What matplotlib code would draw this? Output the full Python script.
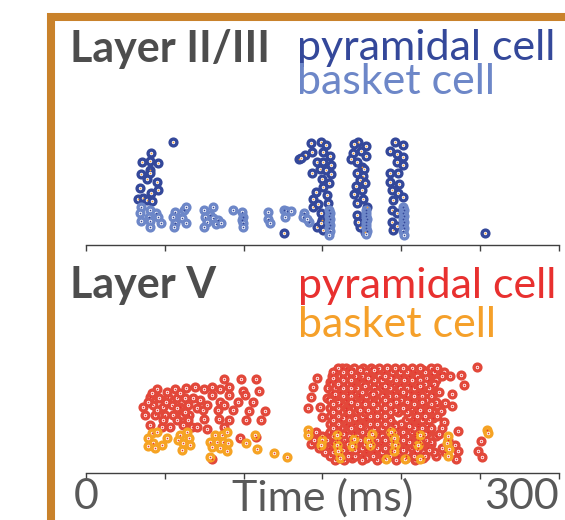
import numpy as np
import matplotlib
matplotlib.use("Agg")
import matplotlib.pyplot as plt
from matplotlib.patches import Rectangle

plt.rcParams['font.family'] = ['Lato', 'DejaVu Sans']

# ---- data: spike times (ms) and neuron index ----
# Layer II/III pyramidal
l23_pyr_t = [41.1, 35.7, 40.8, 45.5, 40.4, 34.9, 40.6, 38.7, 45.3, 34.5, 41.1, 45.9, 33.2, 36.4, 38.7, 41.7,
             55.2, 125.7, 135.2,
             142.6, 149.0, 152.3, 139.2, 143.4, 136.3, 150.2, 154.9, 146.4, 150.6, 155.3, 143.3, 148.5, 152.3,
             155.7, 149.6, 154.4, 150.6, 146.0, 152.8, 144.3, 153.8, 143.9, 147.4, 149.0, 149.6, 146.8, 150.6, 149.3,
             172.8, 170.3, 177.7, 169.7, 174.5, 177.7, 168.2, 171.8, 175.0, 176.4, 171.8, 175.6, 173.9, 177.1,
             171.4, 175.0, 170.1, 175.6, 171.8, 178.2, 171.8, 173.9, 177.1, 172.6,
             196.3, 193.0, 201.4, 197.6, 201.4, 197.2, 201.4, 193.0, 198.2, 193.0, 198.9, 194.0, 198.2, 201.4,
             195.0, 194.0, 197.2, 194.0, 195.0, 197.4,
             253.0]
l23_pyr_n = [85, 76, 77, 75, 68, 64, 65, 59, 56, 50, 45, 48, 39, 40, 38, 37,
             96, 5, 79,
             95, 96, 93, 83, 86, 80, 86, 82, 76, 76, 73, 65, 69, 68,
             64, 59, 55, 51, 46, 43, 39, 35, 31, 34, 25, 18, 11, 8, 15,
             96, 94, 92, 85, 87, 82, 79, 76, 71, 69, 65, 62, 58, 55,
             52, 48, 44, 39, 35, 31, 23, 11, 6, 16,
             96, 87, 93, 84, 81, 76, 73, 65, 65, 56, 54, 48, 45, 41,
             38, 28, 25, 16, 8, 12,
             5]

# Layer II/III basket
l23_bas_t = [34.9, 34.5, 40.8, 44.6, 45.9, 34.9, 40.0, 40.6, 47.4, 40.8,
             56.3, 62.4, 63.7, 55.4, 61.1, 56.3, 63.5, 55.7,
             75.1, 80.4, 78.9, 75.3, 80.8, 83.8, 76.6, 82.5, 85.5, 74.9,
             93.3, 99.2, 99.8, 98.8, 99.8, 99.8,
             115.3, 115.3, 117.0, 125.9, 127.4, 126.5, 130.1,
             138.4, 137.9, 141.7, 140.3,
             154.2, 155.0, 154.4, 155.0, 154.2, 155.0, 154.4, 154.6, 154.0,
             177.4, 178.0, 177.6, 178.2, 177.5, 178.0, 177.4, 178.1, 177.7,
             201.2, 201.8, 201.4, 202.0, 201.3, 201.8, 201.5, 202.0, 201.4, 201.7]
l23_bas_n = [31, 25, 28, 25, 21, 17, 21, 17, 15, 11,
             26, 28, 31, 21, 20, 15, 15, 11,
             28, 31, 23, 21, 20, 18, 16, 14, 15, 11,
             28, 26, 21, 18, 15, 11,
             26, 19, 15, 28, 27, 21, 27,
             25, 21, 16, 19,
             28, 25, 22, 19, 16, 13, 10, 7, 3,
             28, 25, 22, 19, 16, 13, 10, 7, 4,
             31, 28, 25, 22, 19, 16, 13, 10, 7, 3]

# Layer V pyramidal, early and sparse spikes
l5_pyr_t = [87.6, 98.2, 107.7, 44.9, 56.5, 63.5, 69.2, 74.9, 79.8, 85.0, 91.0, 99.8, 109.8,
            40.6, 46.5, 52.2, 57.9, 62.8, 68.1, 79.8, 90.8, 85.0, 96.7, 100.9, 106.2,
            36.4, 42.3, 48.7, 54.4, 59.7, 64.9, 70.3, 74.1, 77.0, 83.6, 87.6, 93.5, 103.5, 113.4,
            37.4, 43.8, 50.1, 55.4, 60.7, 65.6, 74.9, 84.6, 91.0, 101.4, 111.1,
            40.6, 48.0, 53.3, 61.8, 67.1, 70.3, 77.0, 87.6, 97.7, 107.7, 79.8,
            39.5, 51.6, 41.7, 49.1, 57.6, 64.9, 72.4, 57.6, 59.7, 45.1, 50.8, 62.8,
            248.0, 238.0, 239.9, 232.5, 227.9, 232.1, 222.6, 225.3, 227.4, 235.9, 250.7, 249.0, 251.5,
            234.2, 236.3, 234.6, 219.4, 224.7, 221.5, 220.4,
            144.3, 142.8, 141.1, 148.5, 146.4, 150.0, 152.8, 153.8, 154.9, 158.0, 162.3]
l5_pyr_n = [86, 86, 86, 76, 76, 77, 78, 76, 78, 76, 78, 74, 74,
            68, 67, 68, 67, 67, 67, 70, 70, 63, 63, 70, 63,
            58, 60, 58, 60, 58, 60, 57, 55, 60, 55, 60, 55, 54, 54,
            50, 50, 50, 50, 50, 50, 46, 46, 45, 45, 45,
            40, 38, 38, 40, 38, 38, 36, 38, 27, 28, 6,
            63, 73, 72, 45, 45, 45, 65, 57, 72, 55, 63, 53,
            98, 90, 80, 71, 62, 59, 59, 54, 43, 34, 24, 14, 8,
            20, 14, 6, 91, 91, 95, 80,
            78, 68, 57, 58, 87, 48, 67, 77, 83, 92, 97]

# Layer V pyramidal, dense burst (one row of times per neuron index)
l5_block_n = [97, 93, 89, 85, 81, 77, 73, 69, 65, 61, 57, 53, 49, 45, 41, 37, 33, 29, 25, 21, 17, 13, 9, 5]
l5_block_t = [
    [160, 165, 170, 176, 181, 186, 191, 196, 201, 207, 212, 219, 223],
    [157, 163, 168, 173, 178, 184, 189, 194, 199, 204, 209, 215, 221, 227],
    [156, 161, 166, 171, 175, 180, 186, 190, 195, 200, 205, 210, 226, 231],
    [158, 163, 168, 173, 178, 183, 188, 197, 202, 207, 212, 217, 222],
    [156, 160, 165, 170, 175, 181, 186, 191, 195, 200, 205, 210, 215, 221],
    [158, 163, 168, 172, 178, 183, 188, 193, 199, 204, 208, 213, 218],
    [156, 161, 166, 170, 175, 180, 185, 195, 201, 206, 211, 216, 224],
    [158, 163, 168, 173, 178, 183, 188, 192, 197, 203, 208, 213, 219],
    [155, 160, 165, 170, 176, 181, 186, 190, 195, 200, 206, 211, 216],
    [157, 162, 167, 172, 177, 182, 188, 193, 198, 203, 208, 214, 219],
    [155, 160, 165, 170, 175, 180, 185, 190, 195, 201, 206, 211, 217],
    [157, 162, 167, 172, 177, 183, 188, 193, 198, 204, 209, 214, 220],
    [155, 160, 165, 170, 175, 180, 185, 190, 205, 210, 215, 223],
    [157, 162, 167, 172, 178, 183, 188, 193, 203, 208, 213, 218],
    [155, 160, 165, 170, 175, 180, 185, 190, 195, 200, 206, 211, 216],
    [157, 162, 168, 173, 178, 183, 188, 193, 198, 203, 208, 213, 219, 226],
    [146, 155, 160, 165, 170, 175, 181, 186, 191, 196, 201, 206, 211, 217],
    [150, 157, 162, 167, 172, 178, 183, 188, 193, 199, 204, 209, 214, 222],
    [145, 153, 159, 164, 169, 174, 180, 185, 190, 195, 201, 206, 211, 216, 230],
    [143, 156, 161, 166, 171, 177, 182, 187, 192, 198, 203, 208, 213, 219],
    [148, 154, 159, 164, 170, 175, 180, 185, 190, 196, 201, 206, 211, 217, 226],
    [152, 157, 162, 167, 173, 178, 183, 188, 194, 199, 204, 209, 214, 221, 228],
    [155, 160, 166, 171, 176, 182, 187, 193, 198, 203, 208, 215, 222],
    [158, 164, 175, 185, 197, 209],
]
# second, offset layer of the same burst
l5_block2_n = [95, 87, 79, 71, 63, 55, 47, 39, 31, 23, 15, 7]
l5_block2_t = [
    [159, 167, 174, 183, 192, 198, 206, 214, 220],
    [157, 164, 172, 179, 187, 193, 203, 209, 216],
    [161, 169, 177, 184, 190, 198, 206, 212, 219],
    [158, 166, 173, 182, 189, 198, 204, 211, 220],
    [160, 168, 175, 184, 191, 197, 204, 213, 222],
    [158, 165, 174, 179, 187, 196, 203, 212, 218],
    [156, 163, 171, 178, 186, 192, 208, 214, 220],
    [159, 167, 174, 181, 189, 196, 205, 211, 217],
    [154, 163, 170, 178, 186, 194, 202, 209, 215, 224],
    [158, 165, 173, 181, 188, 195, 205, 212, 219],
    [156, 163, 171, 178, 186, 194, 201, 210, 218],
    [161, 169, 178, 190, 203, 214],
]

# Layer V basket
l5_bas_t = [41.7, 44.9, 39.5, 42.7, 48.0, 51.2, 39.5, 43.8,
            59.7, 63.9, 58.6, 61.8, 65.6, 66.0, 60.7,
            81.9, 86.1, 89.7, 78.7, 83.0, 87.1, 90.3, 79.8, 85.0, 89.3, 78.7,
            101.6, 108.3, 107.3, 119.5, 127.8,
            141.1, 140.7, 149.6, 149.2, 159.1, 159.1, 159.7, 170.3, 168.6, 179.2, 180.3, 181.7,
            193.6, 195.7, 196.1, 195.7, 190.2, 212.0, 210.9, 212.0, 202.5,
            230.0, 228.9, 230.4, 229.6, 254.3, 255.4, 161.2]
l5_bas_n = [32, 33, 27, 22, 20, 27, 19, 17,
            30, 33, 25, 22, 27, 20, 15,
            30, 30, 33, 23, 23, 23, 22, 18, 17, 14, 8,
            22, 16, 30, 12, 8,
            35, 30, 25, 20, 30, 20, 14, 26, 19, 25, 20, 31,
            33, 27, 20, 14, 6, 30, 20, 6, 6,
            29, 22, 16, 9, 35, 32, 7]

xticks = [0, 50, 100, 150, 200, 250, 300]
xticklabels = ['0', '', '', 'Time (ms)', '', '', '300']

# colours
dark_blue = '#34489a'
light_blue = '#6d87c8'
red = '#e2483a'
orange = '#f6a324'
text_grey = '#4d4d4d'
frame_col = '#c9822b'


def raster(ax, t, n, ring, dot):
    ax.scatter(t, n, s=24, facecolor='white', edgecolor=ring, linewidths=2.4, zorder=2)
    ax.scatter(t, n, s=1.5, color=dot, linewidths=0, zorder=3)


def rows_to_points(rows, ids):
    t = np.concatenate([np.array(r, dtype=float) for r in rows])
    n = np.concatenate([np.full(len(r), k) for r, k in zip(rows, ids)])
    return t, n


fig = plt.figure(figsize=(5.65, 5.2), dpi=100)
ax1 = fig.add_axes([0.1522, 0.5288, 0.8366, 0.2115])
ax2 = fig.add_axes([0.1522, 0.0910, 0.8366, 0.2167])

raster(ax1, l23_pyr_t, l23_pyr_n, dark_blue, '#f39c34')
raster(ax1, l23_bas_t, l23_bas_n, light_blue, dark_blue)

b1_t, b1_n = rows_to_points(l5_block_t, l5_block_n)
b2_t, b2_n = rows_to_points(l5_block2_t, l5_block2_n)
# interleave the two layers so neither sits entirely on top
blk_t = np.concatenate([b1_t, b2_t])
blk_n = np.concatenate([b1_n, b2_n])
order = np.argsort(blk_t * 7 % 11, kind='stable')
raster(ax2, np.concatenate([l5_pyr_t, blk_t[order]]), np.concatenate([l5_pyr_n, blk_n[order]]), red, '#e8302f')
raster(ax2, l5_bas_t, l5_bas_n, orange, '#e53a2f')

for ax, ylim in ((ax1, (-7, 103)), (ax2, (-8, 105))):
    ax.set_xlim(0, 300)
    ax.set_ylim(*ylim)
    for s in ('top', 'right', 'left'):
        ax.spines[s].set_visible(False)
    ax.spines['bottom'].set_color('#404040')
    ax.spines['bottom'].set_linewidth(1.0)
    ax.set_yticks([])
    ax.set_xticks(xticks)
    ax.tick_params(axis='x', direction='out', length=4, width=1.0, color='#404040')

ax1.set_xticklabels([])
ax2.set_xticklabels(xticklabels, fontsize=31, color='#595959')
ax2.tick_params(axis='x', pad=0.0)
ax2.get_xticklabels()[-1].set_horizontalalignment('right')

# titles / legend text
fig.text(0.1239, 0.8813, 'Layer II/III', fontsize=31, fontweight='bold', color=text_grey, va='baseline')
fig.text(0.5257, 0.8846, 'pyramidal cell', fontsize=31, color=dark_blue, va='baseline')
fig.text(0.5257, 0.8187, 'basket cell', fontsize=31, color=light_blue, va='baseline')
fig.text(0.1239, 0.4263, 'Layer V', fontsize=31, fontweight='bold', color=text_grey, va='baseline')
fig.text(0.5274, 0.4269, 'pyramidal cell', fontsize=31, color='#e8302f', va='baseline')
fig.text(0.5274, 0.3525, 'basket cell', fontsize=31, color='#f5a02a', va='baseline')

# orange frame on the top and left
fig.add_artist(Rectangle((51 / 565, -0.1), 1.2, 1.1 - 17 / 520, transform=fig.transFigure,
                         fill=False, edgecolor=frame_col, linewidth=5.8, clip_on=False))

fig.savefig('out.png', dpi=100, facecolor='white')
